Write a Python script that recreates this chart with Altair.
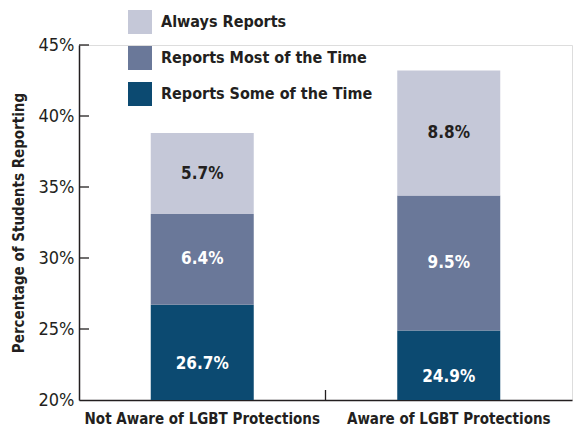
import altair as alt
import pandas as pd

categories = ["Not Aware of LGBT Protections", "Aware of LGBT Protections"]
series = ["Reports Some of the Time", "Reports Most of the Time", "Always Reports"]
some_time = [26.7, 24.9]
most_time = [6.4, 9.5]
always = [5.7, 8.8]
y_ticks = [20, 25, 30, 35, 40, 45]
legend_order = ["Always Reports", "Reports Most of the Time", "Reports Some of the Time"]
colors = ["#c5c8d8", "#6a7899", "#0c4a71"]

FONT = "Liberation Sans Narrow, DejaVu Sans Condensed, sans-serif"
AXIS_MIN, AXIS_MAX = 20, 45

rows = []
for i, cat in enumerate(categories):
    start = 0.0
    for s, vals in zip(series, [some_time, most_time, always]):
        v = vals[i]
        end = start + v
        vis_lo = max(start, AXIS_MIN)
        rows.append({
            "cat": cat, "series": s, "value": v,
            "start": start, "end": end,
            "mid": (vis_lo + end) / 2,
            "label": f"{v}%",
            "bottom": s == series[0],
        })
        start = end
df = pd.DataFrame(rows)
ticks_df = pd.DataFrame({"t": y_ticks[1:]})
cat_df = pd.DataFrame({"cat": categories[1:]})

W, H = 493, 355
INK = "#231f20"

xenc = alt.X("cat:N", sort=categories, scale=alt.Scale(paddingInner=0, paddingOuter=0),
             axis=alt.Axis(title=None, labelFontSize=15, labelFontWeight="bold", labelFont=FONT,
                           labelColor=INK, ticks=False, domainColor=INK,
                           domainWidth=1.5, labelPadding=11, labelAngle=0, labelLimit=400))
yscale = alt.Scale(domain=[AXIS_MIN, AXIS_MAX], nice=False, zero=False)

bars = alt.Chart(df).mark_bar(size=103, clip=True).encode(
    x=xenc,
    y=alt.Y("start:Q", scale=yscale,
            axis=alt.Axis(values=y_ticks, labelExpr="datum.value + '%'", ticks=False, grid=False,
                          domainColor=INK, domainWidth=1.5, labelFontSize=18,
                          labelFont=FONT, labelColor=INK, labelPadding=5,
                          title="Percentage of Students Reporting", titleFont=FONT,
                          titleFontSize=15, titleFontWeight="bold", titleColor=INK,
                          titlePadding=12)),
    y2="end:Q",
    color=alt.Color("series:N", scale=alt.Scale(domain=legend_order, range=colors),
                    legend=alt.Legend(title=None, orient="none", legendX=49, legendY=-35,
                                      symbolType="square", symbolSize=576, symbolStrokeWidth=0,
                                      symbolOpacity=1, labelFont=FONT, labelFontSize=16,
                                      labelFontWeight="bold", labelColor=INK,
                                      labelOffset=9, rowPadding=12, padding=0,
                                      labelLimit=300)),
    order=alt.Order("start:Q"),
)

txt_color = alt.condition(alt.datum.series == "Always Reports", alt.value(INK), alt.value("white"))
upper = alt.Chart(df).transform_filter("!datum.bottom").mark_text(
    font=FONT, fontSize=17, fontWeight="bold").encode(
    x=alt.X("cat:N", sort=categories), y=alt.Y("mid:Q", scale=yscale), text="label:N", color=txt_color)
lower = alt.Chart(df).transform_filter("datum.bottom").mark_text(
    font=FONT, fontSize=17, fontWeight="bold", dy=12).encode(
    x=alt.X("cat:N", sort=categories), y=alt.Y("mid:Q", scale=yscale), text="label:N", color=txt_color)

ytick = alt.Chart(ticks_df).mark_rule(color=INK, strokeWidth=1.3).encode(
    y=alt.Y("t:Q", scale=yscale), x=alt.value(0), x2=alt.value(10))
xtick = alt.Chart(cat_df).mark_rule(color=INK, strokeWidth=1.3).encode(
    x=alt.X("cat:N", sort=categories, bandPosition=0), y=alt.value(H - 10), y2=alt.value(H))

chart = alt.layer(bars, upper, lower, ytick, xtick).properties(
    width=W, height=H,
    autosize=alt.AutoSizeParams(type="none"),
    padding={"left": 71, "top": 37, "right": 1, "bottom": 28},
).configure_view(stroke=None).configure(background="white")

chart.save("out.html", embed_options={"renderer": "svg", "actions": False})
